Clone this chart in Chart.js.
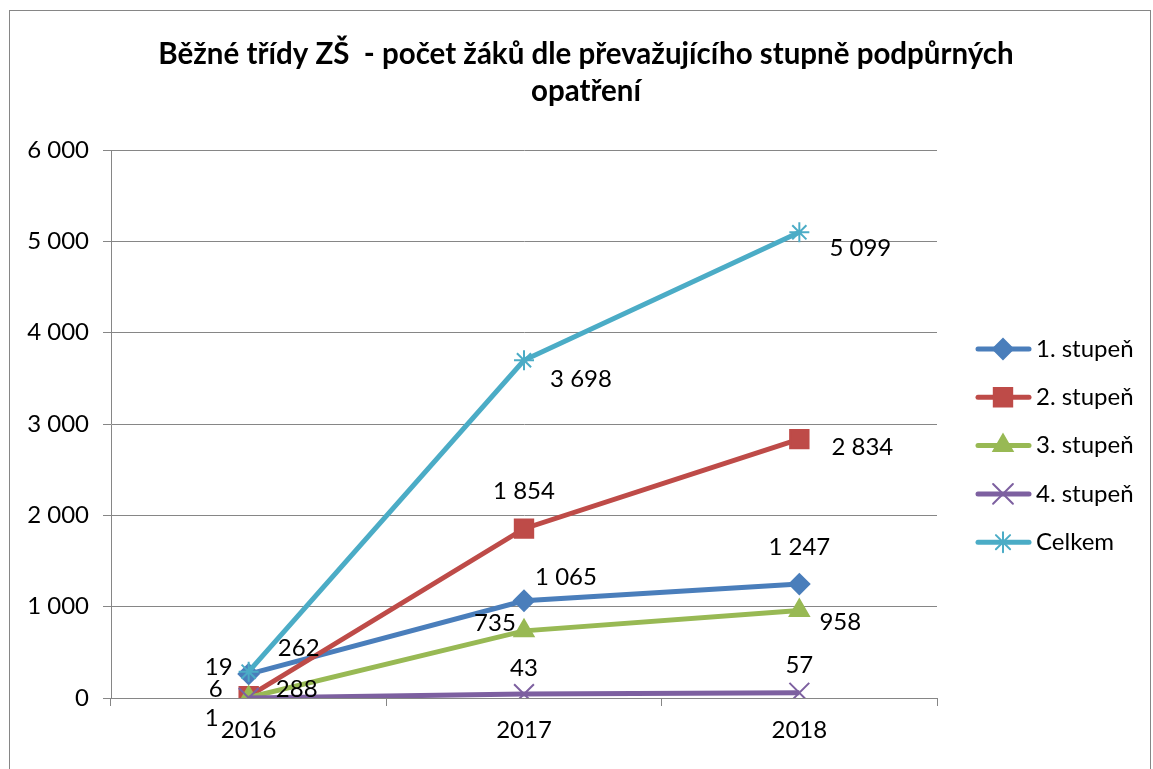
<!DOCTYPE html>
<html>
<head>
<meta charset="utf-8">
<script src="https://cdn.jsdelivr.net/npm/chart.js@4"></script>
<style>body{margin:0;background:#fff}</style>
</head>
<body>
<canvas id="myChart" width="1153" height="769"></canvas>
<script>
let years = ['2016', '2017', '2018'];
let labels = ['1. stupeň', '2. stupeň', '3. stupeň', '4. stupeň', 'Celkem'];
let stupen1 = [262, 1065, 1247];
let stupen2 = [19, 1854, 2834];
let stupen3 = [6, 735, 958];
let stupen4 = [1, 43, 57];
let celkem = [288, 3698, 5099];
let yMax = 6000, yStep = 1000;

let colors = ['#4a7ebb', '#be4b48', '#98b954', '#7d60a0', '#4bacc6'];
let styles = ['rectRot', 'rect', 'triangle', 'crossRot', 'star'];
let radii = [10, 13, 11, 14, 10];
// label offsets from each point (dx, dy), like Excel put them
let labelOffsets = [
  [[50, -26], [42, -23], [0, -37]],
  [[-30, -29], [0, -37], [63, 8]],
  [[-33, -8], [-29, -8], [41, 12]],
  [[-37, 20], [0, -26], [0, -28]],
  [[48, 18], [57, 19], [61, 16]]
];
let series = [stupen1, stupen2, stupen3, stupen4, celkem];
let fontName = 'Lato, "Open Sans", sans-serif';

function fmt(v) {
  return String(v).replace(/\B(?=(\d{3})+(?!\d))/g, ' ');
}

let extras = {
  id: 'extras',
  beforeDraw(chart) {
    let c = chart.ctx;
    c.save();
    c.fillStyle = '#fff';
    c.fillRect(0, 0, chart.width, chart.height);
    c.strokeStyle = '#868686';
    c.lineWidth = 1;
    c.strokeRect(9.5, 10.5, 1141, 800);
    c.restore();
  },
  afterDatasetsDraw(chart) {
    let c = chart.ctx;
    c.save();
    c.font = '24px ' + fontName;
    c.fillStyle = '#000';
    c.textAlign = 'center';
    c.textBaseline = 'middle';
    chart.data.datasets.forEach((ds, i) => {
      chart.getDatasetMeta(i).data.forEach((pt, j) => {
        let off = labelOffsets[i][j];
        c.fillText(fmt(ds.data[j]), pt.x + off[0], pt.y + off[1]);
      });
    });
    c.restore();
  },
  afterDraw(chart) {
    let c = chart.ctx;
    c.save();
    c.fillStyle = '#000';
    c.textAlign = 'center';
    c.textBaseline = 'middle';
    c.font = 'bold 29.5px ' + fontName;
    c.fillText('Běžné třídy ZŠ  - počet žáků dle převažujícího stupně podpůrných', 586, 54);
    c.fillText('opatření', 586, 91);

    // legend
    chart.data.datasets.forEach((ds, i) => {
      let y = 349 + i * 48.3;
      c.strokeStyle = ds.borderColor;
      c.lineWidth = 5;
      c.lineCap = 'round';
      c.beginPath();
      c.moveTo(978, y);
      c.lineTo(1029, y);
      c.stroke();
      c.fillStyle = ds.borderColor;
      c.lineWidth = 2;
      Chart.helpers.drawPoint(c, {pointStyle: ds.pointStyle, radius: ds.pointRadius, borderWidth: 2}, 1003, y);
      c.fillStyle = '#000';
      c.font = '24px ' + fontName;
      c.textAlign = 'left';
      c.fillText(labels[i], 1036, y);
    });
    c.restore();
  }
};

let datasets = series.map((d, i) => ({
  label: labels[i],
  data: d,
  borderColor: colors[i],
  backgroundColor: colors[i],
  borderWidth: 5,
  pointStyle: styles[i],
  pointRadius: radii[i],
  pointBorderWidth: 2,
  pointBorderColor: colors[i],
  pointBackgroundColor: colors[i],
  tension: 0,
  order: 4 - i
}));

let chart = new Chart(document.getElementById('myChart').getContext('2d'), {
  type: 'line',
  data: { labels: years, datasets: datasets },
  plugins: [extras],
  options: {
    responsive: false,
    animation: false,
    layout: { padding: { top: 150, right: 216, left: 0, bottom: 0 } },
    plugins: {
      legend: { display: false },
      title: { display: false },
      tooltip: { enabled: false }
    },
    scales: {
      x: {
        offset: true,
        grid: { drawOnChartArea: false, drawTicks: true, tickLength: 8, color: '#868686', offset: true },
        border: { color: '#868686' },
        ticks: { padding: 10, color: '#000', font: { family: fontName, size: 24 } },
        afterFit: s => { s.height = 71; }
      },
      y: {
        min: 0,
        max: yMax,
        grid: { color: '#868686', tickLength: 8 },
        border: { color: '#868686' },
        ticks: {
          stepSize: yStep,
          padding: 14,
          color: '#000',
          font: { family: fontName, size: 24 },
          callback: v => fmt(v)
        },
        afterFit: s => { s.width = 111; }
      }
    }
  }
});
</script>
</body>
</html>
